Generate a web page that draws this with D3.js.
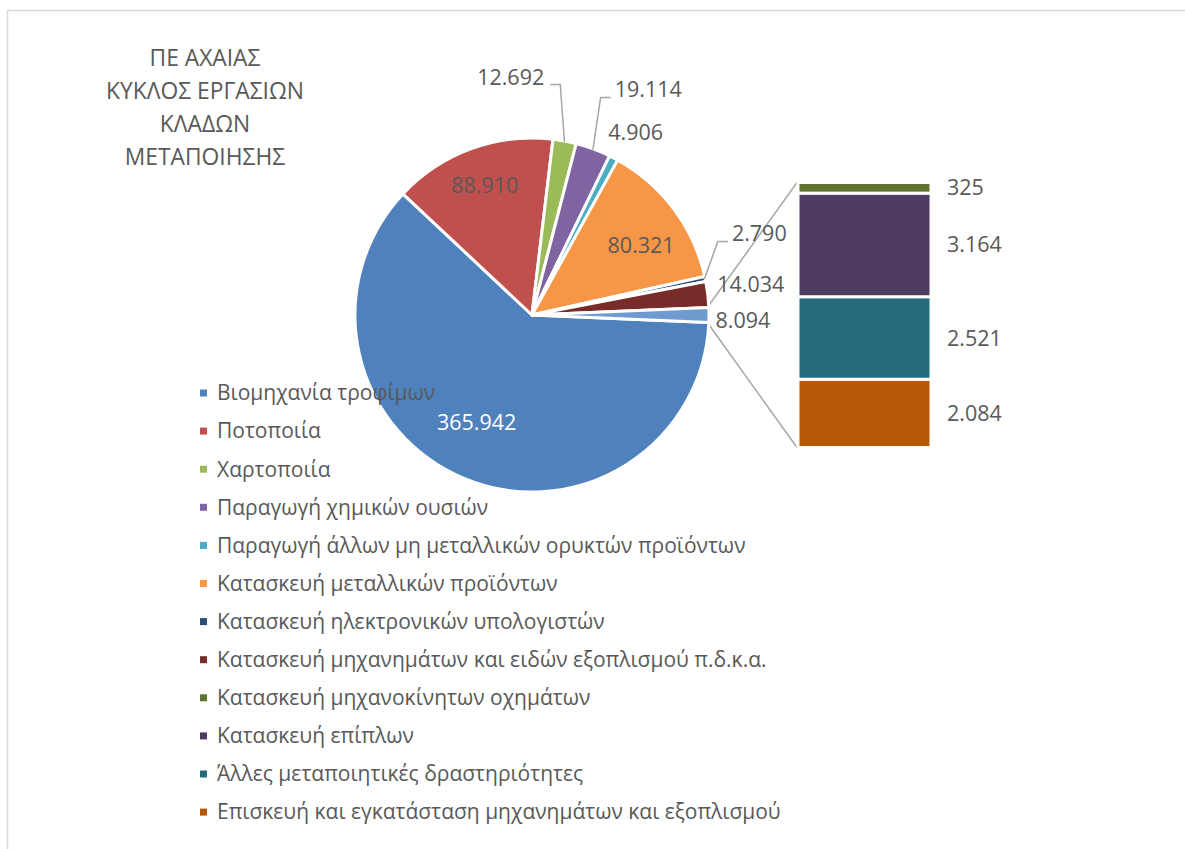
<!DOCTYPE html>
<html>
<head>
<meta charset="utf-8">
<script src="https://cdn.jsdelivr.net/npm/d3@7"></script>
<style>
  body { margin: 0; background: #fff; }
  text { font-family: "Open Sans", sans-serif; }
</style>
</head>
<body>
<div id="chart"></div>
<script>
// Data
const titleLines = ['ΠΕ ΑΧΑΙΑΣ', 'ΚΥΚΛΟΣ ΕΡΓΑΣΙΩΝ', 'ΚΛΑΔΩΝ', 'ΜΕΤΑΠΟΙΗΣΗΣ'];
const categories = [
    'Βιομηχανία τροφίμων',
    'Ποτοποιία',
    'Χαρτοποιία',
    'Παραγωγή χημικών ουσιών',
    'Παραγωγή άλλων μη μεταλλικών ορυκτών προϊόντων',
    'Κατασκευή μεταλλικών προϊόντων',
    'Κατασκευή ηλεκτρονικών υπολογιστών',
    'Κατασκευή μηχανημάτων και ειδών εξοπλισμού π.δ.κ.α.',
    'Κατασκευή μηχανοκίνητων οχημάτων',
    'Κατασκευή επίπλων',
    'Άλλες μεταποιητικές δραστηριότητες',
    'Επισκευή και εγκατάσταση μηχανημάτων και εξοπλισμού'
];
const values = [365942, 88910, 12692, 19114, 4906, 80321, 2790, 14034, 325, 3164, 2521, 2084];
const pieCount = 8; // the rest goes to the bar
const colors = ['#4F81BD', '#C0504D', '#9BBB59', '#8064A2', '#4BACC6', '#F79646',
                '#2C4D75', '#772C2A', '#5F7530', '#4D3B62', '#276A7C', '#B65708'];
const otherColor = '#6F9BD1';

// Layout
const W = 1185, H = 849;
const cx = 532, cy = 315, R = 177;
const bar = { x: 798, w: 133, top: 182.5, bottom: 447.5 };

// label placement: offset from slice outer midpoint (out) or polar radius (in)
const labelLayout = [
    { type: 'in', r: 0.66, dx: -10, dy: 0, fill: '#fff' },
    { type: 'in', r: 0.78, dx: 0, dy: 0 },
    { type: 'out', dx: -54, dy: -64, leader: 'left' },
    { type: 'out', dx: 55, dy: -59, leader: 'right' },
    { type: 'out', dx: 22, dy: -25 },
    { type: 'in', r: 0.77, dx: 0, dy: 12 },
    { type: 'out', dx: 54, dy: -45, leader: 'right' },
    { type: 'out', dx: 43, dy: -10 },
    { type: 'out', dx: 34, dy: 5 }
];

const fmt = d3.formatLocale({ decimal: ',', thousands: '.', grouping: [3], currency: ['', '€'] }).format(',d');

const svg = d3.select('#chart').append('svg')
    .attr('width', W)
    .attr('height', H);

svg.append('rect').attr('width', W).attr('height', H).attr('fill', '#fff');
svg.append('rect')
    .attr('x', 7.5).attr('y', 10.5)
    .attr('width', W).attr('height', H)
    .attr('fill', 'none')
    .attr('stroke', '#d9d9d9')
    .attr('stroke-width', 1.5);

// Title
svg.append('text')
    .attr('text-anchor', 'middle')
    .style('font-size', '22.8px')
    .style('fill', '#595959')
    .selectAll('tspan')
    .data(titleLines)
    .join('tspan')
    .attr('x', 205)
    .attr('y', (d, i) => 66 + i * 33)
    .text(d => d);

// Pie data: first pieCount slices + combined "other"
const barItems = values.slice(pieCount).map((v, i) => ({ name: categories[pieCount + i], value: v, color: colors[pieCount + i] }));
const otherTotal = d3.sum(barItems, d => d.value);
const pieItems = values.slice(0, pieCount).map((v, i) => ({ name: categories[i], value: v, color: colors[i] }));
pieItems.push({ name: 'other', value: otherTotal, color: otherColor });

// rotate so the combined slice is centred at 3 o'clock
const total = d3.sum(pieItems, d => d.value);
const start = Math.PI / 2 + (otherTotal / total) * Math.PI;
const pie = d3.pie().sort(null).value(d => d.value)
    .startAngle(start).endAngle(start + 2 * Math.PI);
const arcs = pie(pieItems);
const arc = d3.arc().innerRadius(0).outerRadius(R);

const pt = (a, r) => [cx + r * Math.sin(a), cy - r * Math.cos(a)];

// Connector lines to the bar
const otherArc = arcs[arcs.length - 1];
const p1 = pt(otherArc.startAngle, R - 1.5);
const p2 = pt(otherArc.endAngle, R - 1.5);
svg.append('g')
    .selectAll('line')
    .data([[p1, [bar.x - 1, bar.top]], [p2, [bar.x - 1, bar.bottom]]])
    .join('line')
    .attr('x1', d => d[0][0]).attr('y1', d => d[0][1])
    .attr('x2', d => d[1][0]).attr('y2', d => d[1][1])
    .attr('stroke', '#a6a6a6')
    .attr('stroke-width', 1.5);

const g = svg.append('g').attr('transform', `translate(${cx},${cy})`);
g.selectAll('path')
    .data(arcs)
    .join('path')
    .attr('d', arc)
    .attr('fill', d => d.data.color)
    .attr('stroke', '#fff')
    .attr('stroke-width', 3)
    .attr('stroke-linejoin', 'round');

// Bar of the small categories (stacked from the bottom with the last item)
const yScale = d3.scaleLinear().domain([0, otherTotal]).range([bar.bottom, bar.top]);
let acc = 0;
const stacked = barItems.slice().reverse().map(d => {
    const s = { ...d, y0: acc, y1: acc + d.value };
    acc += d.value;
    return s;
});
svg.append('g')
    .selectAll('rect')
    .data(stacked)
    .join('rect')
    .attr('x', bar.x)
    .attr('width', bar.w)
    .attr('y', d => yScale(d.y1))
    .attr('height', d => yScale(d.y0) - yScale(d.y1))
    .attr('fill', d => d.color)
    .attr('stroke', '#fff')
    .attr('stroke-width', 3);

svg.append('g')
    .selectAll('text')
    .data(stacked)
    .join('text')
    .attr('x', 947)
    .attr('y', d => yScale((d.y0 + d.y1) / 2))
    .attr('dy', '0.35em')
    .style('font-size', '21.5px')
    .style('fill', '#595959')
    .text(d => fmt(d.value));

// Pie labels
const labelG = svg.append('g');
arcs.forEach((d, i) => {
    const L = labelLayout[i];
    const mid = (d.startAngle + d.endAngle) / 2;
    let x, y;
    if (L.type === 'in') {
        [x, y] = pt(mid, L.r * R);
    } else {
        [x, y] = pt(mid, R);
    }
    x += L.dx; y += L.dy;
    const t = labelG.append('text')
        .attr('x', x).attr('y', y)
        .attr('dy', '0.35em')
        .attr('text-anchor', 'middle')
        .style('font-size', '21.5px')
        .style('fill', L.fill || '#595959')
        .text(fmt(d.value));
    if (L.leader) {
        const half = t.node().getComputedTextLength() / 2;
        const edge = pt(mid, R - 1);
        const ly = y + 7.5;
        const sx = L.leader === 'left' ? x + half + 6 : x - half - 4;
        const ex = L.leader === 'left' ? sx + 10 : sx - 10;
        labelG.append('polyline')
            .attr('points', [[sx, ly], [ex, ly], edge].map(p => p.join(',')).join(' '))
            .attr('fill', 'none')
            .attr('stroke', '#a6a6a6')
            .attr('stroke-width', 1.5);
    }
});

// Legend
const legend = svg.append('g')
    .selectAll('g')
    .data(categories)
    .join('g')
    .attr('transform', (d, i) => `translate(200, ${393 + i * 38.1})`);
legend.append('rect')
    .attr('x', 0).attr('y', -3.5)
    .attr('width', 7).attr('height', 7)
    .attr('fill', (d, i) => colors[i]);
legend.append('text')
    .attr('x', 17)
    .attr('dy', '0.35em')
    .style('font-size', '21px')
    .style('fill', '#595959')
    .text(d => d);
</script>
</body>
</html>
